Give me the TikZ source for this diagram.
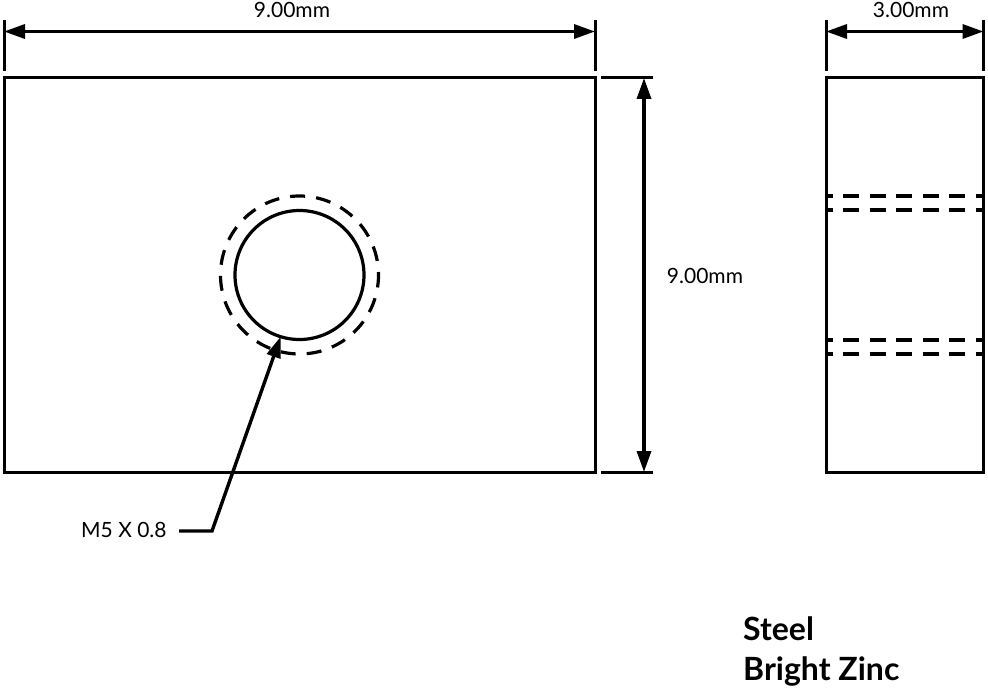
\documentclass[tikz,border=0pt]{standalone}
\usepackage{fontspec}
\setmainfont{Lato}
\usetikzlibrary{arrows.meta}

\tikzset{
	part/.style={draw, rectangle, line width=3pt, inner sep=0pt, outer sep=0pt},
	hidden/.style={line width=3.2pt, dash pattern=on 16pt off 10.5pt},
	extline/.style={line width=3pt},
	dimline/.style={line width=3.4pt, {Triangle[length=21pt, width=14pt]}-{Triangle[length=21pt, width=14pt]}},
	leader/.style={line width=3.4pt, -{Triangle[length=21pt, width=14pt]}},
	dimtext/.style={inner sep=0pt, anchor=base, font=\fontsize{21}{24}\selectfont},
	finish/.style={inner sep=0pt, anchor=base west, font=\fontsize{32}{36}\selectfont\bfseries}
}

\begin{document}
\begin{tikzpicture}[x=1pt, y=-1pt]
	\useasboundingbox (0, 0) rectangle (988, 690);

	\draw (299.5, 275) 	node[part, minimum width=591pt, minimum height=394pt] 	(front) 	{};
	\draw (904.5, 275) 	node[part, minimum width=157pt, minimum height=394pt] 	(side) 		{};
	\draw (299.5, 275) 	node[draw, circle, line width=3.2pt, inner sep=0pt, outer sep=0pt, minimum size=129pt] 	(hole) 		{};
	\draw (299.5, 275) 	node[draw, circle, line width=3.2pt, inner sep=0pt, outer sep=0pt, minimum size=158pt, dash pattern=on 15pt off 11.1pt, dash phase=12pt] 	(thread) 	{};

	\draw (292, 17.5) 	node[dimtext] 	(width_text) 	{9.00mm};
	\draw (911, 17.5) 	node[dimtext] 	(depth_text) 	{3.00mm};
	\draw (705, 283) 	node[dimtext] 	(height_text) 	{9.00mm};
	\draw (81, 537.5) 	node[dimtext, anchor=base west] 	(thread_text) 	{M5 X 0.8};
	\draw (743, 640) 	node[finish] 	(steel) 	{Steel};
	\draw (743, 680) 	node[finish] 	(zinc) 		{Bright Zinc};

	\coordinate (w_a) at (4, 20);
	\coordinate (w_b) at (4, 71);
	\coordinate (w_c) at (595, 20);
	\coordinate (w_d) at (595, 71);
	\coordinate (d_a) at (826, 20);
	\coordinate (d_b) at (826, 71);
	\coordinate (d_c) at (983.5, 20);
	\coordinate (d_d) at (983.5, 71);
	\coordinate (h_a) at (601, 78);
	\coordinate (h_b) at (653, 78);
	\coordinate (h_c) at (601, 472);
	\coordinate (h_d) at (653, 472);
	\coordinate (w_l) at (4, 31.5);
	\coordinate (w_r) at (595, 31.5);
	\coordinate (d_l) at (826, 31.5);
	\coordinate (d_r) at (983.5, 31.5);
	\coordinate (h_t) at (644, 78);
	\coordinate (h_u) at (644, 472);
	\coordinate (lead_a) at (179, 531);
	\coordinate (lead_b) at (212, 531);

	\draw[extline] (w_a) -- (w_b);
	\draw[extline] (w_c) -- (w_d);
	\draw[extline] (d_a) -- (d_b);
	\draw[extline] (d_c) -- (d_d);
	\draw[extline] (h_a) -- (h_b);
	\draw[extline] (h_c) -- (h_d);

	\draw[dimline] (w_l) -- (w_r);
	\draw[dimline] (d_l) -- (d_r);
	\draw[dimline] (h_t) -- (h_u);
	\draw[leader] (lead_a) -- (lead_b) -- (hole.253.6);

	% hidden lines of the bore
	\foreach \y/\n in {196/a, 210/b, 340/c, 354/d} {
		\coordinate (bore_\n_l) at (826, \y);
		\coordinate (bore_\n_r) at (983, \y);
		\draw[hidden, dash phase=9.5pt] (bore_\n_l) -- (bore_\n_r);
	}
\end{tikzpicture}
\end{document}
